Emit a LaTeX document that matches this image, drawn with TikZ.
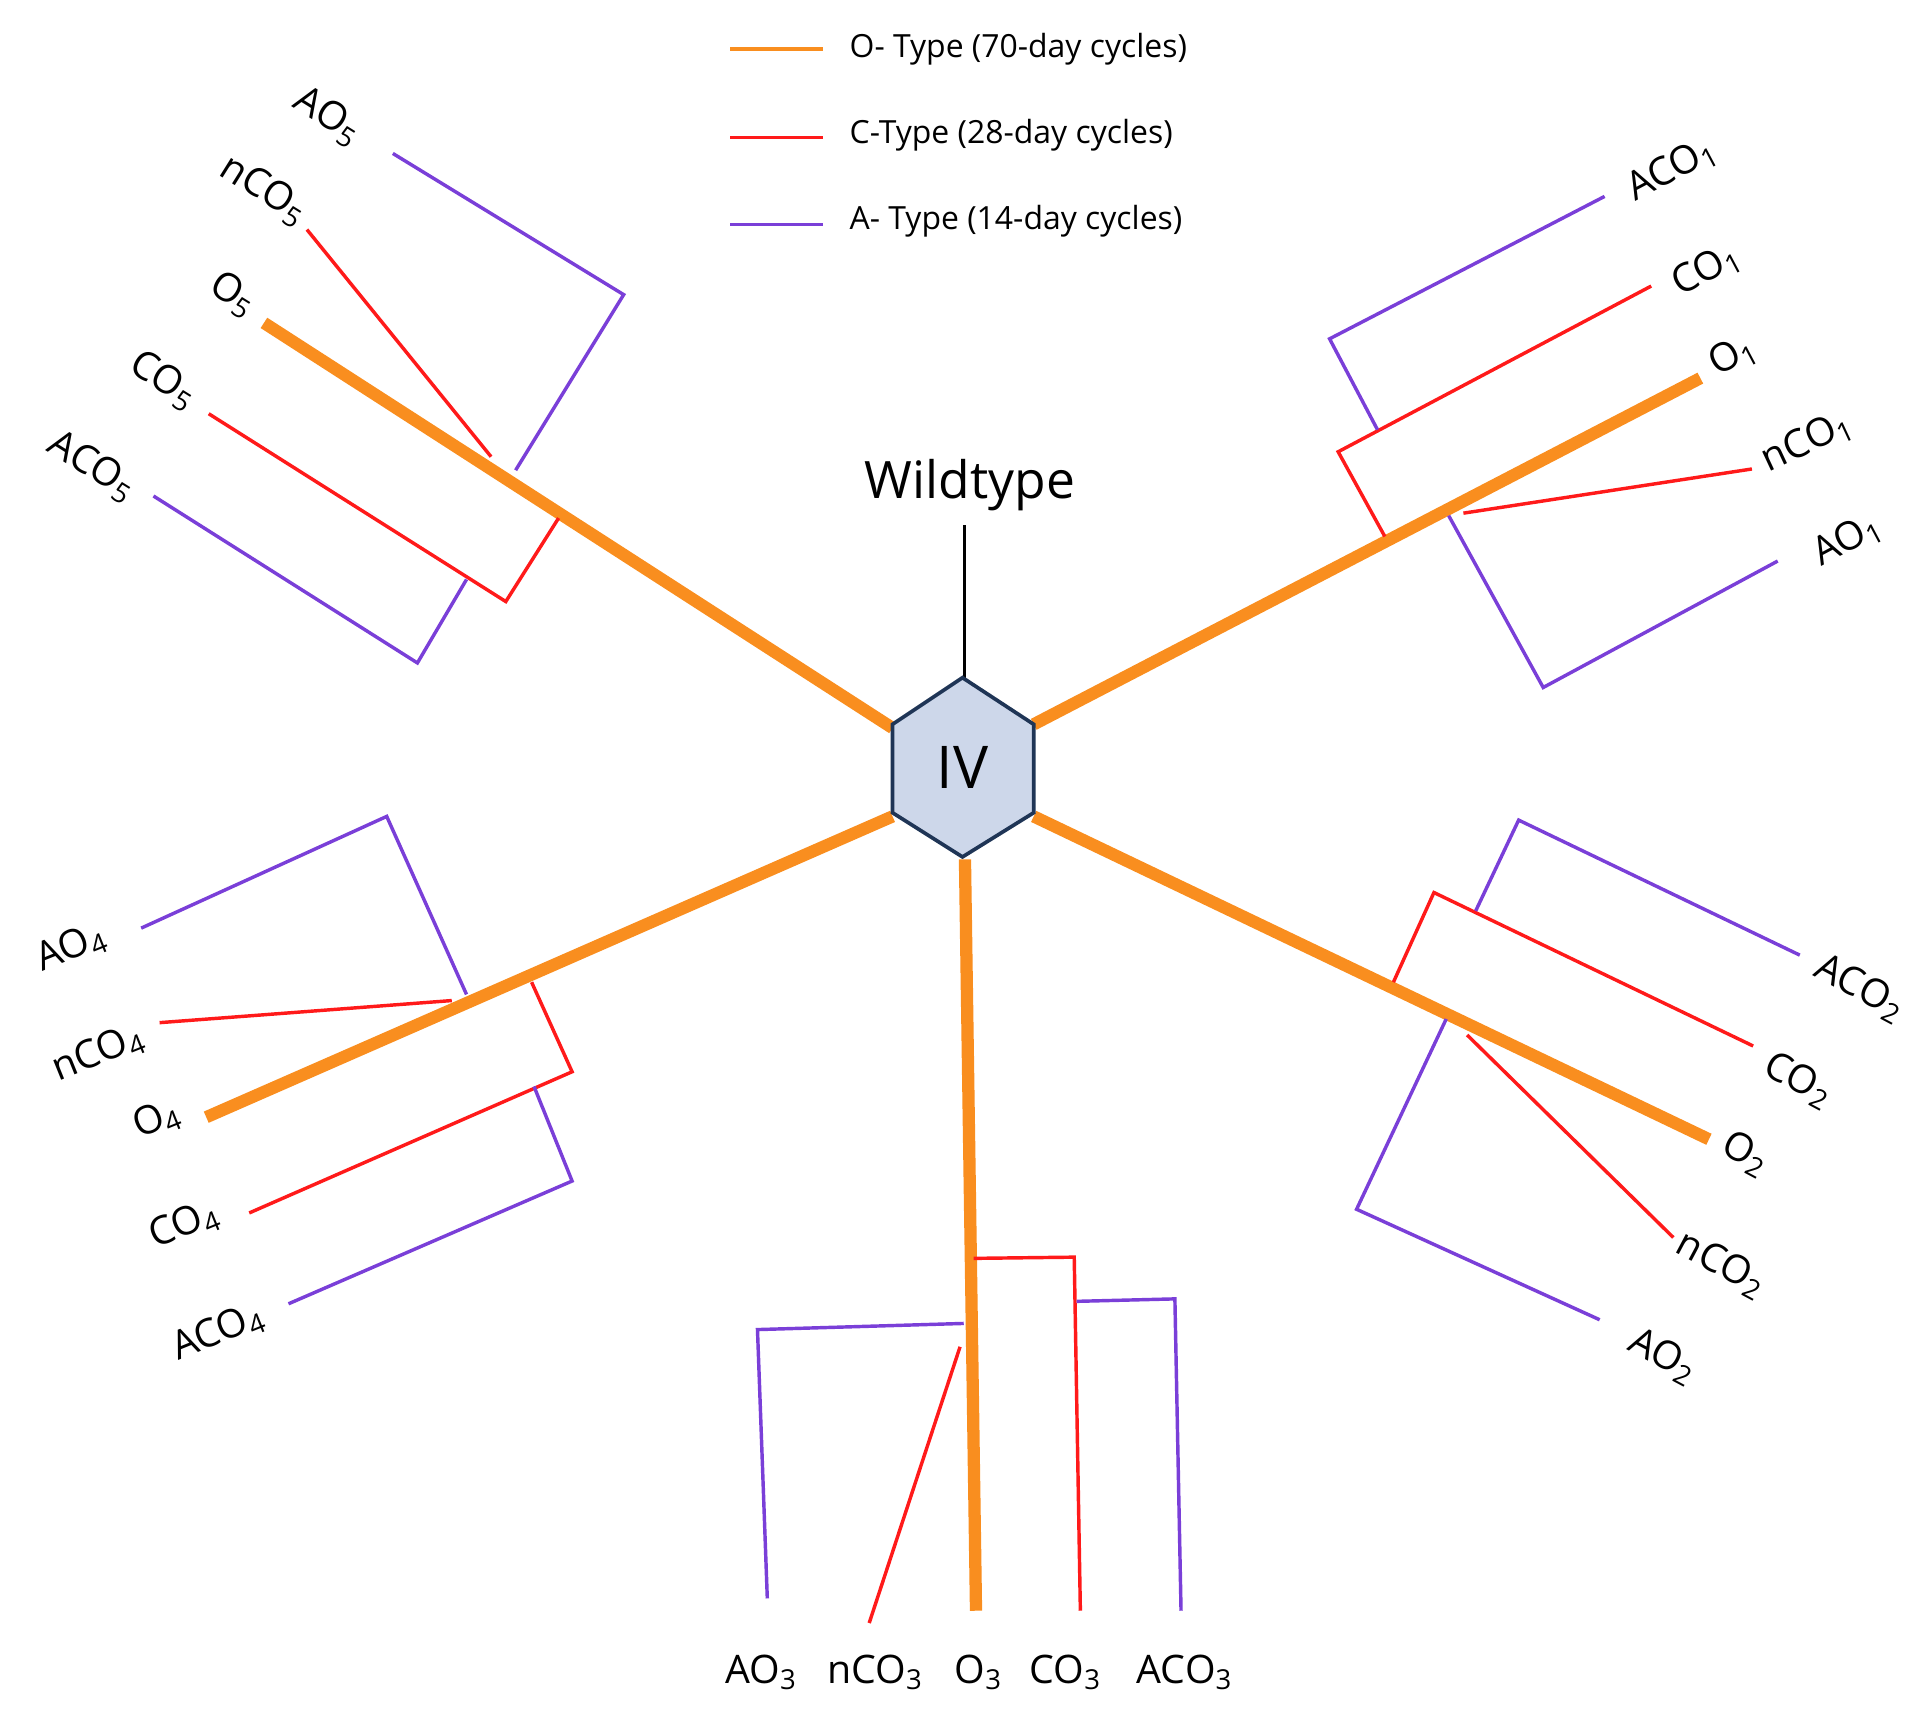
\documentclass[tikz,border=0pt]{standalone}
\usepackage{fontspec}
\setmainfont{Open Sans}
\begin{document}
\definecolor{org}{HTML}{F98E1F}
\definecolor{rd}{HTML}{FF1A1A}
\definecolor{pu}{HTML}{7A3FD8}
\definecolor{hexf}{HTML}{CDD7EA}
\definecolor{hexd}{HTML}{1F3556}
\begin{tikzpicture}[x=0.5pt,y=-0.5pt,
 O/.style={org,line width=5pt},
 C/.style={rd,line width=1.4pt},
 A/.style={pu,line width=1.4pt},
 lab/.style={font=\fontsize{16}{18}\selectfont},
 leg/.style={font=\fontsize{13}{15}\selectfont,anchor=west}]
\useasboundingbox (0,0) rectangle (1568,1401);
\newcommand{\s}[1]{\textsubscript{#1}}
% legend
\draw[org,line width=1.4pt] (595,40) -- (670,40); \node[leg] at (685,40) {O- Type (70-day cycles)};
\draw[C] (595,112) -- (670,112); \node[leg] at (685,110) {C-Type (28-day cycles)};
\draw[A] (595,183) -- (670,183); \node[leg] at (685,180) {A- Type (14-day cycles)};
% wildtype
\draw[black,line width=1.2pt] (786,428) -- (786,552);
\node[font=\fontsize{21}{24}\selectfont] at (790,395) {Wildtype};
% branch 1
\draw[O] (842,590) -- (1385,308);
\draw[C] (1128,437) -- (1090,368) -- (1345,233);
\draw[C] (1192,418) -- (1427,382);
\draw[A] (1122,350) -- (1083,276) -- (1307,160);
\draw[A] (1180,420) -- (1257,560) -- (1448,457);
\node[lab,rotate=28] at (1362,138) {ACO\s1};
\node[lab,rotate=28] at (1390,220) {CO\s1};
\node[lab,rotate=28] at (1412,290) {O\s1};
\node[lab,rotate=25] at (1472,360) {nCO\s1};
\node[lab,rotate=28] at (1505,440) {AO\s1};
% branch 2
\draw[O] (842,665) -- (1392,928);
\draw[C] (1135,800) -- (1168,727) -- (1428,852);
\draw[A] (1202,742) -- (1237,668) -- (1466,778);
\draw[C] (1195,843) -- (1363,1008);
\draw[A] (1178,830) -- (1105,985) -- (1303,1075);
\node[lab,rotate=-28] at (1515,805) {ACO\s2};
\node[lab,rotate=-28] at (1465,880) {CO\s2};
\node[lab,rotate=-28] at (1422,940) {O\s2};
\node[lab,rotate=-28] at (1402,1030) {nCO\s2};
\node[lab,rotate=-28] at (1355,1105) {AO\s2};
% branch 3
\draw[O] (786,700) -- (795,1312);
\draw[C] (793,1025) -- (875,1024) -- (880,1312);
\draw[A] (877,1060) -- (957,1058) -- (962,1312);
\draw[A] (785,1078) -- (617,1083) -- (625,1302);
\draw[C] (782,1097) -- (708,1322);
\node[lab] at (620,1362) {AO\s3};
\node[lab] at (713,1362) {nCO\s3};
\node[lab] at (797,1362) {O\s3};
\node[lab] at (868,1362) {CO\s3};
\node[lab] at (965,1362) {ACO\s3};
% branch 4
\draw[O] (727,665) -- (168,910);
\draw[C] (433,800) -- (466,873) -- (203,988);
\draw[A] (435,885) -- (466,962) -- (235,1062);
\draw[C] (368,815) -- (130,833);
\draw[A] (380,810) -- (315,665) -- (115,756);
\node[lab,rotate=22] at (58,772) {AO\s4};
\node[lab,rotate=22] at (80,858) {nCO\s4};
\node[lab,rotate=22] at (128,912) {O\s4};
\node[lab,rotate=22] at (150,998) {CO\s4};
\node[lab,rotate=22] at (178,1085) {ACO\s4};
% branch 5
\draw[O] (727,593) -- (215,263);
\draw[C] (400,372) -- (250,187);
\draw[A] (420,383) -- (508,240) -- (320,125);
\draw[C] (455,422) -- (412,490) -- (170,337);
\draw[A] (380,472) -- (340,540) -- (125,404);
\node[lab,rotate=-32] at (267,95) {AO\s5};
\node[lab,rotate=-32] at (215,155) {nCO\s5};
\node[lab,rotate=-32] at (190,240) {O\s5};
\node[lab,rotate=-32] at (133,310) {CO\s5};
\node[lab,rotate=-32] at (75,380) {ACO\s5};
% hexagon
\draw[hexd,fill=hexf,line width=1.5pt] (784,552) -- (842,590) -- (842,662) -- (784,698) -- (727,662) -- (727,590) -- cycle;
\node[font=\fontsize{24}{28}\selectfont] (iv) at (784,625) {IV};
\end{tikzpicture}
\end{document}
